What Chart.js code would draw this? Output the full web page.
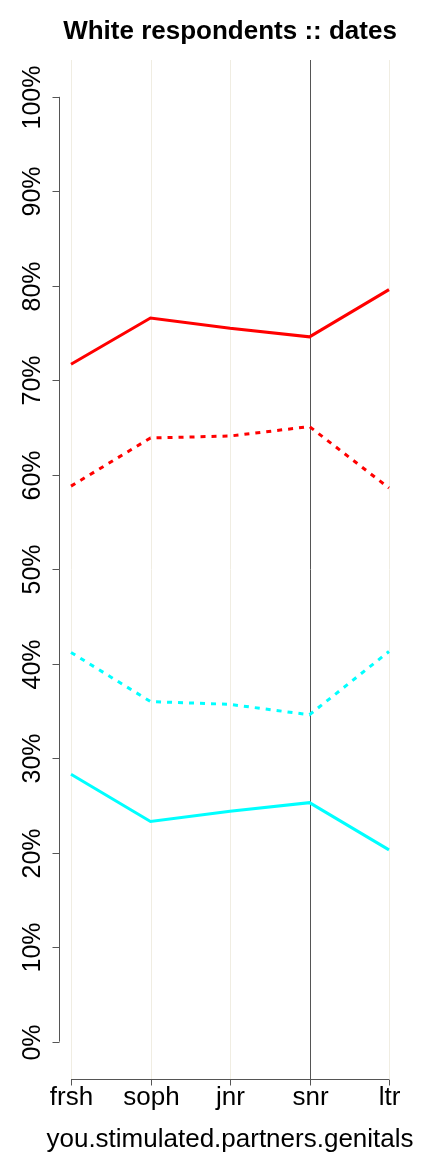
<!DOCTYPE html>
<html><head><meta charset="utf-8">
<script src="https://cdn.jsdelivr.net/npm/chart.js@4"></script>
<style>html,body{margin:0;padding:0;background:#fff}#w{width:432px;height:1152px}</style>
</head><body><div id="w"><canvas id="c"></canvas></div>
<script>
const categories = ['frsh','soph','jnr','snr','ltr'];
const redSolid   = [71.7, 76.6, 75.5, 74.6, 79.6];
const redDashed  = [58.8, 63.9, 64.1, 65.1, 58.6];
const cyanDashed = [41.2, 36.0, 35.7, 34.6, 41.3];
const cyanSolid  = [28.3, 23.3, 24.4, 25.3, 20.3];
const yTicks = [0,10,20,30,40,50,60,70,80,90,100];
const titleText = 'White respondents :: dates';
const xTitleText = 'you.stimulated.partners.genitals';
const FONT = '"Liberation Sans", Arial, Helvetica, sans-serif';

const axesPlugin = {
  id: 'axesPlugin',
  beforeDatasetsDraw(chart) {
    const ctx = chart.ctx, ca = chart.chartArea, x = chart.scales.x;
    ctx.save();
    categories.forEach((c, i) => {
      const px = Math.round(x.getPixelForValue(i)) + 0.5;
      ctx.beginPath();
      ctx.strokeStyle = c === 'snr' ? '#555555' : '#f0ede2';
      ctx.lineWidth = 1;
      ctx.moveTo(px, ca.top); ctx.lineTo(px, ca.bottom);
      ctx.stroke();
    });
    ctx.restore();
  },
  afterDraw(chart) {
    const ctx = chart.ctx, ca = chart.chartArea, x = chart.scales.x, y = chart.scales.y;
    const cx = (ca.left + ca.right) / 2;
    ctx.save();
    ctx.fillStyle = '#000';
    ctx.textAlign = 'center'; ctx.textBaseline = 'middle';
    ctx.font = 'bold 26px ' + FONT;
    ctx.fillText(titleText, cx, 32);
    ctx.strokeStyle = '#555555'; ctx.lineWidth = 1;
    // y axis
    const ax = ca.left - 11.5;
    const y0 = y.getPixelForValue(yTicks[0]), y1 = y.getPixelForValue(yTicks[yTicks.length-1]);
    ctx.beginPath(); ctx.moveTo(ax, y0); ctx.lineTo(ax, y1); ctx.stroke();
    ctx.font = '25px ' + FONT;
    yTicks.forEach(v => {
      const py = Math.round(y.getPixelForValue(v)) + 0.5;
      ctx.beginPath(); ctx.moveTo(ax, py); ctx.lineTo(ax - 7, py); ctx.stroke();
      ctx.save(); ctx.translate(33, py); ctx.rotate(-Math.PI/2);
      ctx.fillText(v + '%', 0, 0); ctx.restore();
    });
    // x axis
    const by = Math.round(ca.bottom) + 0.5;
    const xa = x.getPixelForValue(0), xb = x.getPixelForValue(categories.length - 1);
    ctx.beginPath(); ctx.moveTo(xa, by); ctx.lineTo(xb, by); ctx.stroke();
    ctx.font = '26px ' + FONT;
    categories.forEach((c, i) => {
      const px = Math.round(x.getPixelForValue(i)) + 0.5;
      ctx.beginPath(); ctx.moveTo(px, by); ctx.lineTo(px, by + 6); ctx.stroke();
      ctx.fillText(c, px, 1098);
    });
    ctx.fillText(xTitleText, cx, 1140);
    ctx.restore();
  }
};

const ds = (data, color, dashed) => ({
  data, borderColor: color, backgroundColor: color, borderWidth: 3,
  borderDash: dashed ? [5, 6] : [], pointRadius: 0, tension: 0, fill: false
});

new Chart(document.getElementById('c'), {
  type: 'line',
  data: {
    labels: categories,
    datasets: [
      ds(redSolid, '#ff0000', false),
      ds(redDashed, '#ff0000', true),
      ds(cyanDashed, '#00ffff', true),
      ds(cyanSolid, '#00ffff', false)
    ]
  },
  options: {
    responsive: true, maintainAspectRatio: false, animation: false,
    layout: { padding: { left: 0, right: 43, top: 60, bottom: 0 } },
    plugins: { legend: { display: false }, tooltip: { enabled: false }, title: { display: false } },
    scales: {
      x: { type: 'category', offset: false, grid: { display: false }, border: { display: false },
        ticks: { display: false }, afterFit: s => { s.height = 73; } },
      y: { min: -3.95, max: 103.9, grid: { display: false }, border: { display: false },
        ticks: { display: false }, afterFit: s => { s.width = 71; } }
    }
  },
  plugins: [axesPlugin]
});
</script></body></html>
